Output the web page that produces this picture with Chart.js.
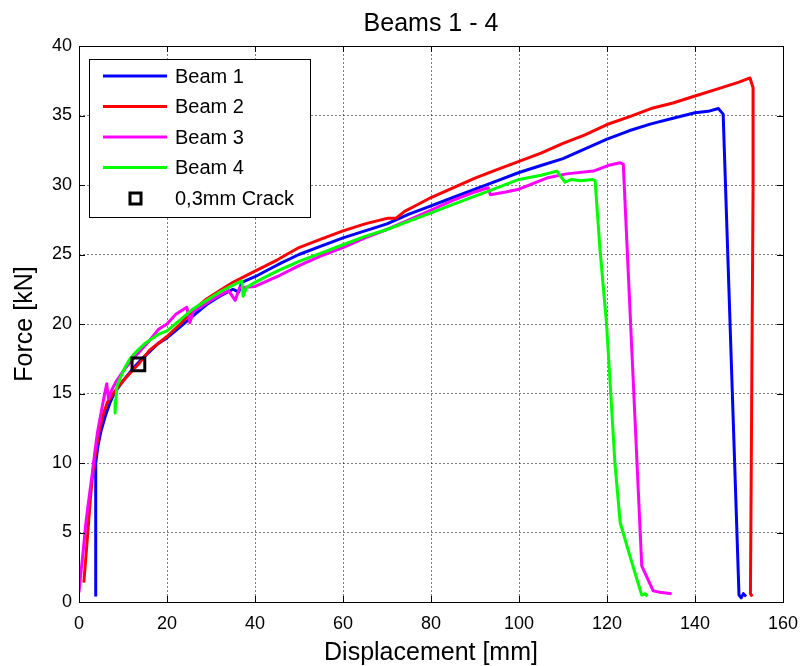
<!DOCTYPE html>
<html>
<head>
<meta charset="utf-8">
<title>Beams 1 - 4</title>
<script src="https://cdn.jsdelivr.net/npm/chart.js@4.4.1/dist/chart.umd.min.js"></script>
<style>
    html, body { margin: 0; padding: 0; background: #fff; }
    #wrap { width: 804px; height: 666px; }
</style>
</head>
<body>
<div id="wrap"><canvas id="chart" width="804" height="666"></canvas></div>
<script>
// Tick values
const xTicks = [0, 20, 40, 60, 80, 100, 120, 140, 160];
const yTicks = [0, 5, 10, 15, 20, 25, 30, 35, 40];

// Displacement [mm], Force [kN] pairs
const beam1 = [
    [3.8, 0.4], [3.8, 10.0], [4.3, 11.2], [5, 12.3], [6, 13.4], [7, 14.3], [8, 15.0], [10, 15.9],
    [12, 16.7], [14, 17.4], [16, 18.0], [18, 18.6], [20, 19.0], [23, 19.8], [26, 20.6], [29, 21.4],
    [32, 22.0], [35, 22.5], [36.3, 22.3], [37, 23.0], [40, 23.4], [43, 23.9], [46, 24.4], [50, 25.0],
    [55, 25.6], [60, 26.2], [65, 26.7], [70, 27.2], [75, 27.9], [80, 28.5], [85, 29.1], [90, 29.7],
    [95, 30.3], [100, 30.9], [105, 31.4], [110, 31.9], [115, 32.6], [120, 33.3], [125, 33.9],
    [130, 34.4], [135, 34.8], [140, 35.2], [143, 35.3], [145.3, 35.5], [146.4, 35.1], [150, 0.5],
    [150.5, 0.3], [151, 0.6], [151.6, 0.4]
];
const beam2 = [
    [1.1, 1.4], [1.5, 3.0], [2, 5.0], [2.6, 7.5], [3.2, 9.5], [3.8, 10.8], [4.5, 12.2], [5.5, 13.5],
    [6.5, 14.4], [8, 15.1], [10, 15.9], [12, 16.6], [13.5, 17.1], [16, 18.1], [18, 18.6], [20, 19.1],
    [23, 20.0], [26, 21.0], [29, 21.8], [32, 22.4], [35, 23.0], [40, 23.8], [45, 24.6], [50, 25.5],
    [55, 26.1], [60, 26.7], [65, 27.2], [70, 27.6], [72, 27.6], [74, 28.1], [77, 28.6], [80, 29.1],
    [85, 29.8], [90, 30.5], [95, 31.1], [100, 31.7], [105, 32.3], [110, 33.0], [115, 33.6],
    [120, 34.35], [125, 34.9], [130, 35.5], [135, 35.9], [140, 36.4], [145, 36.9], [150, 37.4],
    [152.5, 37.7], [153.2, 37.0], [153.2, 30.0], [152.6, 0.6], [153, 0.4]
];
const beam3 = [
    [0, 0.7], [0.4, 2.0], [1, 3.8], [1.5, 5.5], [2, 6.8], [2.5, 8.0], [3, 9.2], [3.6, 10.8],
    [4.2, 12.2], [5, 13.6], [5.6, 14.6], [6.3, 15.7], [6.7, 14.6], [7.5, 15.3], [8.5, 15.9],
    [10, 16.6], [12, 17.4], [14, 18.1], [16, 18.8], [18, 19.6], [20, 20.0], [22, 20.7], [24.5, 21.2],
    [25.2, 20.1], [26, 20.9], [28, 21.3], [31, 21.9], [34, 22.4], [35.5, 21.7], [36.5, 22.6],
    [40, 22.7], [45, 23.4], [50, 24.2], [55, 24.9], [60, 25.5], [65, 26.2], [70, 26.8], [75, 27.5],
    [80, 28.2], [85, 28.9], [90, 29.5], [93, 29.8], [93.5, 29.3], [97, 29.5], [100, 29.7],
    [106.3, 30.5], [110.8, 30.8], [116.9, 31.0], [120.2, 31.4], [123, 31.6], [123.7, 31.5],
    [127.9, 2.6], [130.5, 0.8], [132, 0.7], [134.7, 0.6]
];
const beam4 = [
    [8.2, 14.5], [8.2, 13.6], [8.6, 15.5], [9.5, 16.2], [10.5, 16.9], [11.6, 17.5], [13, 18.0],
    [15, 18.6], [18, 19.25], [20, 19.5], [23, 20.3], [26, 21.1], [29, 21.7], [32, 22.3], [35, 22.8],
    [37, 23.1], [37.3, 22.0], [38, 22.6], [40, 23.0], [45, 23.8], [50, 24.5], [55, 25.1], [60, 25.7],
    [65, 26.3], [70, 26.8], [75, 27.4], [80, 28.0], [85, 28.6], [90, 29.2], [95, 29.8], [100, 30.4],
    [105, 30.7], [108.6, 31.0], [109.5, 30.6], [110.5, 30.2], [112, 30.4], [114, 30.3],
    [116.8, 30.4], [117.3, 30.3], [118.4, 25.4], [119.9, 20.0], [120.7, 15.8], [121.8, 10.0],
    [123, 5.7], [125.5, 3.0], [127.9, 0.5], [128.7, 0.6], [129.2, 0.4]
];
const crack = [[13.5, 17.1]];

const toPoints = arr => arr.map(p => ({ x: p[0], y: p[1] }));

const FONT = '"Liberation Sans", Arial, sans-serif';

// MATLAB style box with inward ticks on all four sides
const axesBox = {
    id: 'axesBox',
    afterDatasetsDraw(chart) {
        const { ctx, chartArea: a, scales } = chart;
        const len = 6;
        ctx.save();
        ctx.strokeStyle = '#000';
        ctx.lineWidth = 1;
        ctx.beginPath();
        scales.x.ticks.forEach(t => {
            const px = Math.round(scales.x.getPixelForValue(t.value)) + 0.5;
            ctx.moveTo(px, a.bottom); ctx.lineTo(px, a.bottom - len);
            ctx.moveTo(px, a.top); ctx.lineTo(px, a.top + len);
        });
        scales.y.ticks.forEach(t => {
            const py = Math.round(scales.y.getPixelForValue(t.value)) + 0.5;
            ctx.moveTo(a.left, py); ctx.lineTo(a.left + len, py);
            ctx.moveTo(a.right, py); ctx.lineTo(a.right - len, py);
        });
        ctx.stroke();
        ctx.strokeRect(a.left + 0.5, a.top + 0.5, a.right - a.left, a.bottom - a.top);
        ctx.restore();
    }
};

// legend drawn inside the axes, top left
const legendBox = {
    id: 'legendBox',
    afterDraw(chart) {
        const { ctx, chartArea: a } = chart;
        const x0 = a.left + 10, y0 = a.top + 13, w = 221, h = 158;
        ctx.save();
        ctx.fillStyle = '#fff';
        ctx.fillRect(x0, y0, w, h);
        ctx.strokeStyle = '#000';
        ctx.lineWidth = 1;
        ctx.strokeRect(x0 + 0.5, y0 + 0.5, w, h);
        ctx.font = '20px ' + FONT;
        ctx.textBaseline = 'middle';
        chart.data.datasets.forEach((ds, i) => {
            const y = y0 + 17 + i * 30.5;
            if (ds.showLine === false) {
                ctx.lineWidth = 3;
                ctx.strokeStyle = '#000';
                ctx.strokeRect(x0 + 41, y - 5, 11, 11);
            } else {
                ctx.lineWidth = 3;
                ctx.strokeStyle = ds.borderColor;
                ctx.beginPath();
                ctx.moveTo(x0 + 14, y);
                ctx.lineTo(x0 + 78, y);
                ctx.stroke();
            }
            ctx.fillStyle = '#000';
            ctx.fillText(ds.label, x0 + 86, y + 1);
        });
        ctx.restore();
    }
};

const chartTitle = {
    id: 'chartTitle',
    afterDraw(chart) {
        const { ctx, chartArea: a } = chart;
        ctx.save();
        ctx.font = '25px ' + FONT;
        ctx.fillStyle = '#000';
        ctx.textAlign = 'center';
        ctx.textBaseline = 'middle';
        ctx.fillText('Beams 1 - 4', (a.left + a.right) / 2, 24);
        ctx.restore();
    }
};

function lineSet(label, data, color, order) {
    return {
        label: label,
        data: toPoints(data),
        borderColor: color,
        backgroundColor: color,
        borderWidth: 3,
        pointRadius: 0,
        tension: 0,
        borderJoinStyle: 'round',
        fill: false,
        order: order
    };
}

const gridStyle = {
    color: 'rgba(0,0,0,0.5)',
    drawTicks: false,
    tickLength: 0
};

new Chart(document.getElementById('chart'), {
    type: 'scatter',
    data: {
        datasets: [
            lineSet('Beam 1', beam1, '#0000ff', 4),
            lineSet('Beam 2', beam2, '#ff0000', 3),
            lineSet('Beam 3', beam3, '#ff00ff', 2),
            lineSet('Beam 4', beam4, '#00ff00', 1),
            {
                label: '0,3mm Crack',
                data: toPoints(crack),
                showLine: false,
                pointStyle: 'rect',
                pointRadius: 9,
                pointBorderWidth: 3,
                borderColor: '#000',
                backgroundColor: 'rgba(0,0,0,0)',
                order: 0
            }
        ]
    },
    options: {
        responsive: false,
        animation: false,
        showLine: true,
        layout: { padding: { top: 46, right: 21, left: 0, bottom: 0 } },
        plugins: {
            legend: { display: false },
            tooltip: { enabled: false },
            title: { display: false }
        },
        scales: {
            x: {
                type: 'linear',
                min: 0,
                max: 160,
                afterBuildTicks: s => { s.ticks = xTicks.map(v => ({ value: v })); },
                afterFit: s => { s.height = 64; s.paddingLeft = 0; s.paddingRight = 0; },
                grid: gridStyle,
                border: { display: false, dash: [2, 2] },
                ticks: { color: '#000', font: { size: 18, family: FONT }, padding: 11, maxRotation: 0 },
                title: { display: true, text: 'Displacement [mm]', color: '#000', font: { size: 25, family: FONT, lineHeight: 1 }, padding: 0 }
            },
            y: {
                type: 'linear',
                min: 0,
                max: 40,
                afterBuildTicks: s => { s.ticks = yTicks.map(v => ({ value: v })); },
                afterFit: s => { s.width = 79; s.paddingTop = 0; s.paddingBottom = 0; },
                grid: gridStyle,
                border: { display: false, dash: [2, 2] },
                ticks: { color: '#000', font: { size: 18, family: FONT }, padding: 7 },
                title: { display: true, text: 'Force [kN]', color: '#000', font: { size: 25, family: FONT, lineHeight: 1 }, padding: 13 }
            }
        }
    },
    plugins: [axesBox, legendBox, chartTitle]
});
</script>
</body>
</html>
